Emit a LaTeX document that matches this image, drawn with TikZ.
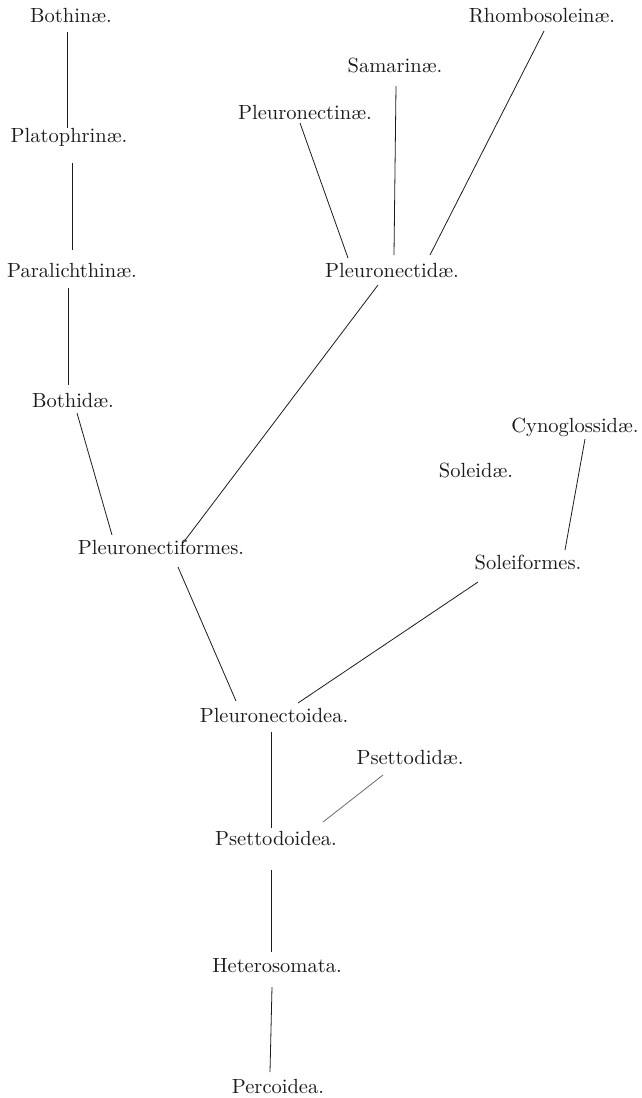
\documentclass[tikz,border=0pt]{standalone}
\usepackage{fontspec}
\newfontfamily\lmten{lmroman10-regular.otf}
\usetikzlibrary{calc}
\definecolor{ink}{HTML}{1C1C1C}
\begin{document}
\begin{tikzpicture}[x=1pt,y=-1pt,
  lbl/.style={anchor=base, inner sep=0pt, font=\lmten\fontsize{20.5}{24}\selectfont, text=ink},
  conn/.style={draw=ink, line width=0.8pt},
  faint/.style={draw=ink!65}]
\useasboundingbox[fill=white] (0,0) rectangle (642,1098);
% labels
\node[lbl] (bothinae) at (71,22) {Bothinæ.};
\node[lbl] (platophrinae) at (69,142) {Platophrinæ.};
\node[lbl] (paralichthinae) at (72,277) {Paralichthinæ.};
\node[lbl] (bothidae) at (73,407) {Bothidæ.};
\node[lbl] (pleuronectiformes) at (161,554) {Pleuronectiformes.};
\node[lbl] (pleuronectinae) at (305,119) {Pleuronectinæ.};
\node[lbl] (samarinae) at (395,72) {Samarinæ.};
\node[lbl] (rhombosoleinae) at (542,22) {Rhombosoleinæ.};
\node[lbl] (pleuronectidae) at (392,277) {Pleuronectidæ.};
\node[lbl] (cynoglossidae) at (575,432) {Cynoglossidæ.};
\node[lbl] (soleidae) at (476,477) {Soleidæ.};
\node[lbl] (soleiformes) at (528,569) {Soleiformes.};
\node[lbl] (pleuronectoidea) at (274,722) {Pleuronectoidea.};
\node[lbl] (psettodidae) at (410,764) {Psettodidæ.};
\node[lbl] (psettodoidea) at (276,845) {Psettodoidea.};
\node[lbl] (heterosomata) at (277,972) {Heterosomata.};
\node[lbl] (percoidea) at (278,1093) {Percoidea.};
% connectors
\draw[conn] ($(bothinae.base)+(-4,10)$) -- ($(platophrinae.base)+(-2,-14)$);
\draw[conn] ($(platophrinae.base)+(3,21)$) -- ($(paralichthinae.base)+(0,-27)$);
\draw[conn] ($(paralichthinae.base)+(-4,11)$) -- ($(bothidae.base)+(-5,-22)$);
\draw[conn] ($(bothidae.base)+(4,6)$) -- ($(pleuronectiformes.base)+(-49,-19)$);
\draw[conn] ($(pleuronectiformes.base)+(22,-11)$) -- ($(pleuronectidae.base)+(-14,8)$);
\draw[conn] ($(pleuronectinae.base)+(-5,4)$) -- ($(pleuronectidae.base)+(-44,-19)$);
\draw[conn] ($(samarinae.base)+(1,14)$) -- ($(pleuronectidae.base)+(2,-22)$);
\draw[conn] ($(rhombosoleinae.base)+(2,9)$) -- ($(pleuronectidae.base)+(38,-22)$);
\draw[conn] ($(cynoglossidae.base)+(10,7)$) -- ($(soleiformes.base)+(37,-19)$);
\draw[conn] ($(soleiformes.base)+(-50,13)$) -- ($(pleuronectoidea.base)+(24,-19)$);
\draw[conn] ($(pleuronectiformes.base)+(17,13)$) -- ($(pleuronectoidea.base)+(-38,-21)$);
\draw[conn] ($(pleuronectoidea.base)+(-3,10)$) -- ($(psettodoidea.base)+(-5,-17)$);
\draw[conn,faint] ($(psettodidae.base)+(-27,11)$) -- ($(psettodoidea.base)+(47,-23)$);
\draw[conn] ($(psettodoidea.base)+(-5,25)$) -- ($(heterosomata.base)+(-6,-20)$);
\draw[conn] ($(heterosomata.base)+(-5,15)$) -- ($(percoidea.base)+(-8,-21)$);
\end{tikzpicture}
\end{document}
